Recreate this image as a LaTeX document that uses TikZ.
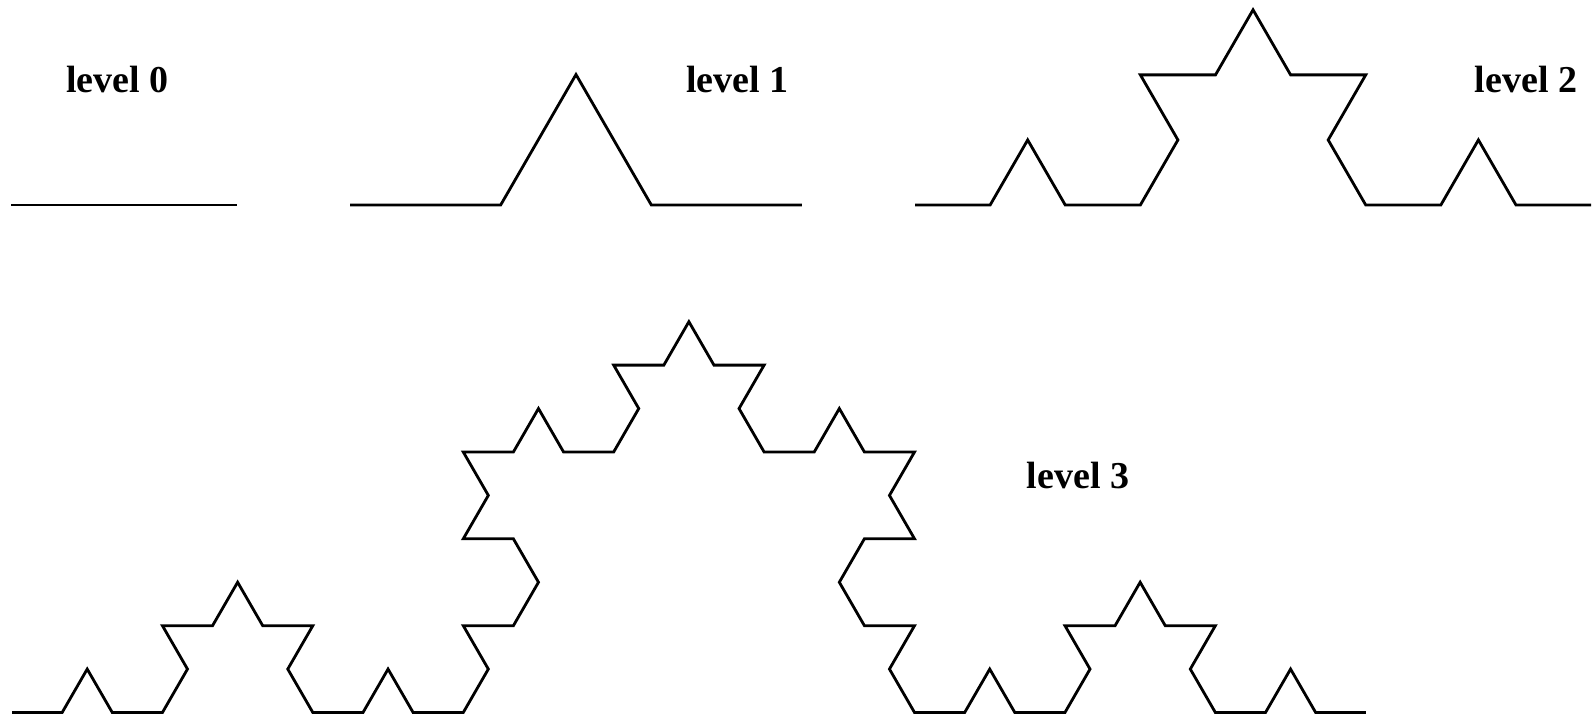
\documentclass[tikz,border=0pt]{standalone}
\usepackage{fontspec}
\setmainfont{Liberation Serif}
\usetikzlibrary{lindenmayersystems}
\pgfdeclarelindenmayersystem{Koch curve}{\rule{F -> F+F--F+F}}
\begin{document}
\begin{tikzpicture}[x=0.5pt,y=-0.5pt,
  koch/.style={line width=1.4pt, line join=miter},
  lbl/.style={font=\fontsize{19}{22}\selectfont\bfseries, anchor=base, inner sep=0pt}]
\useasboundingbox (0,0) rectangle (1594,717);
% level 0
\coordinate (s0) at (11,205);
\coordinate (e0) at (237,205);
\draw[koch] (s0) -- (e0);
% level 1
\coordinate (s1) at (350,205);
\begin{scope}[shift={(s1)}]
\draw[koch, l-system={Koch curve, axiom=F, order=1, step=75.33pt, angle=60}] lindenmayer system;
\end{scope}
% level 2
\coordinate (s2) at (915,205);
\begin{scope}[shift={(s2)}]
\draw[koch, l-system={Koch curve, axiom=F, order=2, step=37.56pt, angle=60}] lindenmayer system;
\end{scope}
% level 3
\coordinate (s3) at (12,712.5);
\begin{scope}[shift={(s3)}]
\draw[koch, l-system={Koch curve, axiom=F, order=3, step=25.07pt, angle=60}] lindenmayer system;
\end{scope}
% labels
\node[lbl] (l0) at (117.5,93) {level 0};
\node[lbl] (l1) at (737.5,93) {level 1};
\node[lbl] (l2) at (1526,93) {level 2};
\node[lbl] (l3) at (1078,488) {level 3};
\end{tikzpicture}
\end{document}
